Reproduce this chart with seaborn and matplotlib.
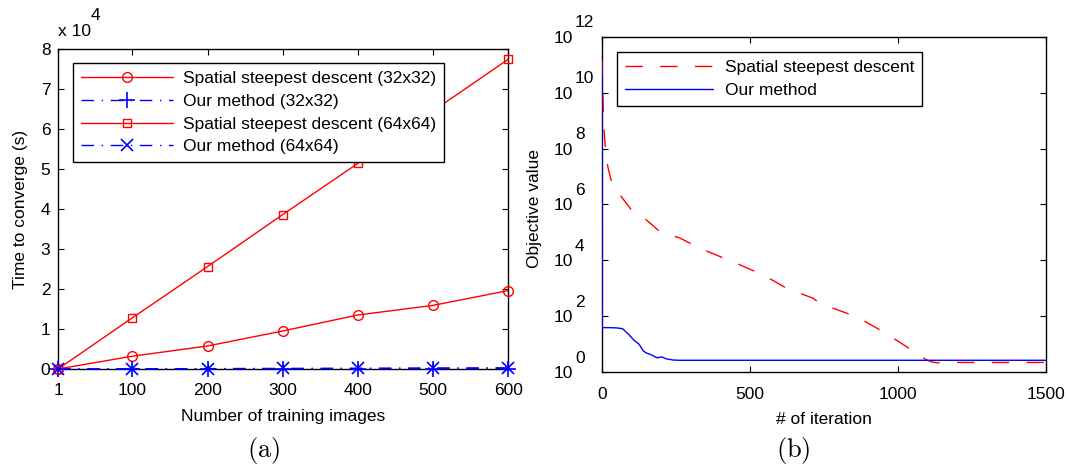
import numpy as np
import pandas as pd
import matplotlib
matplotlib.use("Agg")
import matplotlib.pyplot as plt
import matplotlib.transforms as mtransforms
from matplotlib.ticker import NullLocator
import seaborn as sns

# ---------------- Panel (a) data (time in units of 10^4 s) ----------------
n_images = [1, 100, 200, 300, 400, 500, 600]
ssd_32 = [0.0, 0.32, 0.575, 0.95, 1.35, 1.59, 1.96]
ours_32 = [0.0, 0.002, 0.004, 0.006, 0.008, 0.010, 0.012]
ssd_64 = [0.0, 1.28, 2.56, 3.86, 5.14, 6.45, 7.74]
ours_64 = [0.0, 0.005, 0.010, 0.015, 0.020, 0.025, 0.030]
xticks_a = [1, 100, 200, 300, 400, 500, 600]
yticks_a = [0, 1, 2, 3, 4, 5, 6, 7, 8]
labels_a = ["Spatial steepest descent (32x32)", "Our method (32x32)",
            "Spatial steepest descent (64x64)", "Our method (64x64)"]

# ---------------- Panel (b) data ----------------
iter_ssd = [0, 2, 5, 8, 12, 19, 30, 57, 100, 151, 196, 263, 331, 455, 550,
            624, 714, 736, 860, 950, 1046, 1097, 1115, 1131, 1160, 1300, 1500]
obj_ssd = [1.48e11, 2.0e10, 1.6e9, 3.2e8, 1.0e8, 2.5e7, 7.9e6, 2.5e6, 6.3e5,
           2.75e5, 1.05e5, 6.3e4, 2.7e4, 7.8e3, 2.8e3, 1.0e3, 436, 288, 95,
           28, 6.2, 2.7, 2.3, 2.14, 2.2, 2.2, 2.2]
iter_ours = [0, 1, 20, 50, 70, 90, 110, 125, 140, 150, 165, 186, 203, 215,
             240, 260, 1500]
obj_ours = [7.9e10, 38.9, 38.9, 38.0, 35.5, 22.4, 13.2, 10.0, 5.6, 4.8, 4.2,
            3.24, 3.47, 3.0, 2.69, 2.63, 2.63]
xticks_b = [0, 500, 1000, 1500]
yticks_b = [1e0, 1e2, 1e4, 1e6, 1e8, 1e10, 1e12]
yexp_b = ["0", "2", "4", "6", "8", "10", "12"]
labels_b = ["Spatial steepest descent", "Our method"]

FS = 12.5

sns.set_style("white")
plt.rcParams.update({
    "font.family": ["Liberation Sans", "DejaVu Sans"],
    "font.size": FS,
    "mathtext.fontset": "cm",
    "axes.edgecolor": "black",
    "axes.linewidth": 1.0,
    "text.color": "black",
    "axes.labelcolor": "black",
    "xtick.color": "black",
    "ytick.color": "black",
})

fig = plt.figure(figsize=(10.69, 4.70), dpi=100)
ax1 = fig.add_axes([0.0543, 0.2149, 0.4210, 0.6809])
ax2 = fig.add_axes([0.5631, 0.2085, 0.4153, 0.7128])

dashdot = (0, (9, 5.5, 1, 5.5))
common = dict(estimator=None, sort=False, clip_on=False, zorder=3, linewidth=1.0)
sns.lineplot(x=n_images, y=ssd_32, ax=ax1, color="red", marker="o",
             markerfacecolor="none", markeredgecolor="red", markersize=7,
             markeredgewidth=1.0, label=labels_a[0], **common)
sns.lineplot(x=n_images, y=ours_32, ax=ax1, color="blue", marker="+",
             markersize=11, markeredgewidth=1.2, markeredgecolor="blue",
             linestyle=dashdot, label=labels_a[1], **common)
sns.lineplot(x=n_images, y=ssd_64, ax=ax1, color="red", marker="s",
             markerfacecolor="none", markeredgecolor="red", markersize=6,
             markeredgewidth=1.0, label=labels_a[2], **common)
sns.lineplot(x=n_images, y=ours_64, ax=ax1, color="blue", marker="x",
             markersize=8, markeredgewidth=1.2, markeredgecolor="blue",
             linestyle=dashdot, label=labels_a[3], **common)

ax1.set_xlim(1, 600)
ax1.set_ylim(0, 8)
ax1.set_xticks(xticks_a)
ax1.set_xticklabels([str(v) for v in xticks_a])
ax1.set_yticks(yticks_a)
ax1.set_yticklabels([str(v) for v in yticks_a])
ax1.tick_params(axis="both", direction="in", length=4, width=0.8,
                top=True, right=True, bottom=True, left=True, labelsize=FS)
ax1.tick_params(axis="x", pad=10)
ax1.tick_params(axis="y", pad=5.5)
ax1.set_xlabel("Number of training images", fontsize=FS)
ax1.set_ylabel("Time to converge (s)", fontsize=FS)
ax1.xaxis.set_label_coords(0.5, -0.125)
ax1.yaxis.set_label_coords(-0.067, 0.5)
leg1 = ax1.legend(loc="upper left", bbox_to_anchor=(0.033, 0.956),
                  borderaxespad=0, fontsize=FS, handlelength=5.3,
                  handletextpad=0.57, borderpad=0.45, labelspacing=0.44,
                  fancybox=False, framealpha=1, edgecolor="black", numpoints=1)
leg1.get_frame().set_linewidth(1.0)

fig.text(58 / 1069, 1 - 31 / 470, "x 10", ha="left", va="center", fontsize=FS)
fig.text(91 / 1069, 1 - 15 / 470, "4", ha="left", va="center", fontsize=FS)

# ---------------- Panel (b) ----------------
sns.lineplot(x=iter_ssd, y=obj_ssd, ax=ax2, color="red",
             linestyle=(0, (12.5, 12.5)), label=labels_b[0],
             estimator=None, sort=False, linewidth=1.0, zorder=3)
sns.lineplot(x=iter_ours, y=obj_ours, ax=ax2, color="blue", linestyle="-",
             label=labels_b[1], estimator=None, sort=False, linewidth=1.0,
             zorder=3)
ax2.set_yscale("log")
ax2.set_xlim(0, 1500)
ax2.set_ylim(1, 1e12)
ax2.set_xticks(xticks_b)
ax2.set_xticklabels([str(v) for v in xticks_b])
ax2.set_yticks(yticks_b)
ax2.set_yticklabels(["10"] * len(yticks_b))
ax2.yaxis.set_minor_locator(NullLocator())
ax2.tick_params(axis="both", direction="in", length=4, width=0.8,
                top=True, right=True, bottom=True, left=True, labelsize=FS)
ax2.tick_params(axis="x", pad=11)
ax2.tick_params(axis="y", pad=21)
trans = mtransforms.blended_transform_factory(ax2.transAxes, ax2.transData)
trans = mtransforms.offset_copy(trans, fig=fig, x=-27, y=14, units="dots")
for v, e in zip(yticks_b, yexp_b):
    ax2.text(0, v, e, transform=trans, ha="left", va="center", fontsize=FS,
             clip_on=False)
ax2.set_xlabel("# of iteration", fontsize=FS)
ax2.set_ylabel("Objective value", fontsize=FS)
ax2.xaxis.set_label_coords(0.5, -0.119)
ax2.yaxis.set_label_coords(-0.136, 0.487)
leg2 = ax2.legend(loc="upper left", bbox_to_anchor=(0.034, 0.955),
                  borderaxespad=0, fontsize=FS, handlelength=5.06,
                  handletextpad=0.69, borderpad=0.45, labelspacing=0.44,
                  fancybox=False, framealpha=1, edgecolor="black")
leg2.get_frame().set_linewidth(1.0)

fig.text(264 / 1069, 1 - 450 / 470, r"$\mathrm{(a)}$", ha="center",
         va="center", fontsize=19)
fig.text(793 / 1069, 1 - 450 / 470, r"$\mathrm{(b)}$", ha="center",
         va="center", fontsize=19)

fig.savefig("out.png", dpi=100, facecolor="white")
